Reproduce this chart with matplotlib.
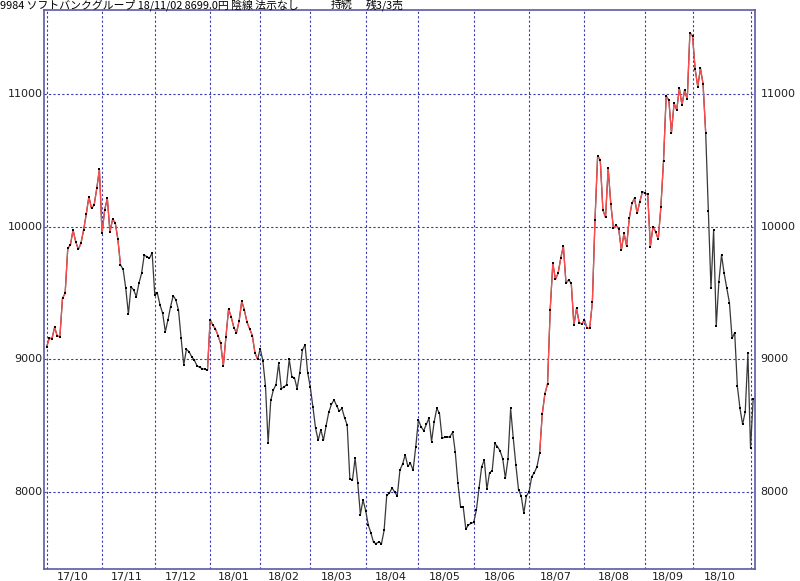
import matplotlib
matplotlib.use('Agg')
import matplotlib.pyplot as plt
import numpy as np

# daily closes, one list per month (17/10 .. 18/11)
close_1710 = [9096, 9159, 9157, 9242, 9176, 9171, 9461, 9498, 9838, 9863, 9976,
              9888, 9830, 9875, 9976, 10094, 10227, 10139, 10164, 10290, 10433]
close_1711 = [9951, 10127, 10215, 9963, 10056, 10031, 9906, 9712, 9679, 9536,
              9342, 9548, 9523, 9473, 9574, 9649, 9787, 9775, 9762, 9805]
close_1712 = [9486, 9498, 9410, 9347, 9209, 9297, 9398, 9481, 9448, 9372, 9159,
              8958, 9076, 9058, 9020, 8995, 8953, 8940, 8930, 8925, 8920]
close_1801 = [9300, 9260, 9230, 9180, 9120, 8950, 9170, 9380, 9320, 9240,
              9200, 9290, 9440, 9370, 9280, 9230, 9180, 9050, 9000]
close_1802 = [9080, 8990, 8800, 8370, 8690, 8770, 8810, 8970, 8780, 8790,
              8810, 9000, 8870, 8860, 8780, 8900, 9070, 9110, 8900]
close_1803 = [8790, 8640, 8480, 8390, 8470, 8390, 8500, 8600, 8660, 8695, 8650,
              8610, 8630, 8560, 8505, 8100, 8090, 8255, 8070, 7830, 7940]
close_1804 = [7860, 7750, 7690, 7620, 7610, 7625, 7610, 7710, 7975, 7990,
              8030, 8000, 7970, 8165, 8210, 8280, 8195, 8215, 8165, 8340]
close_1805 = [8543, 8493, 8462, 8510, 8556, 8380, 8530, 8631, 8593, 8405, 8412,
              8412, 8418, 8450, 8300, 8065, 7889, 7889, 7720, 7751, 7764]
close_1806 = [7770, 7864, 8030, 8190, 8241, 8020, 8145, 8160, 8367, 8342, 8310,
              8250, 8103, 8250, 8630, 8405, 8200, 8015, 7970, 7840, 7970]
close_1807 = [8003, 8116, 8146, 8191, 8292, 8590, 8740, 8815, 9372, 9724, 9604,
              9649, 9762, 9855, 9574, 9599, 9574, 9259, 9385, 9277, 9267]
close_1808 = [9297, 9234, 9234, 9431, 10051, 10534, 10504, 10127, 10071, 10441,
              10172, 9988, 10013, 9983, 9825, 9951, 9855, 10064, 10177, 10215,
              10101, 10189, 10265]
close_1809 = [10252, 10245, 9850, 10001, 9963, 9906, 10151, 10498, 10986,
              10956, 10710, 10931, 10881, 11044, 10918, 11031, 10961, 11464]
close_1810 = [11439, 11188, 11056, 11195, 11077, 10705, 10121, 9536, 9976, 9252,
              9586, 9787, 9649, 9536, 9428, 9159, 9201, 8799, 8631, 8510,
              8606, 9046]
close_1811 = [8330, 8699]

months = [close_1710, close_1711, close_1712, close_1801, close_1802, close_1803,
          close_1804, close_1805, close_1806, close_1807, close_1808, close_1809,
          close_1810, close_1811]
month_labels = ['17/10', '17/11', '17/12', '18/01', '18/02', '18/03', '18/04',
                '18/05', '18/06', '18/07', '18/08', '18/09', '18/10']

# index ranges where the trend line is drawn red
up_spans = [(0, 28), (61, 80), (187, 250)]

price_ticks = [8000, 9000, 10000, 11000]

head_left = '9984 ソフトバンクグループ 18/11/02 8699.0円 陰線 法示なし'
head_mid = '持続'
head_right = '残3/3売'

close = np.array(sum(months, []), dtype=float)
x = np.arange(len(close))
starts = np.cumsum([0] + [len(m) for m in months])[:-1]
label_pos = [(starts[k] + starts[k + 1]) / 2 - 0.5 for k in range(len(month_labels))]

grid_col = '#3a3ab4'
frame_col = '#5a5aa8'
num_font = ['Liberation Sans Narrow', 'DejaVu Sans']

fig = plt.figure(figsize=(8, 5.81), dpi=100)
ax = fig.add_axes([44 / 800, 1 - 569 / 581, 711 / 800, 559 / 581])
ax.set_xlim(-1.02, 268.7)
ax.set_ylim(7419, 11635)

for s in starts:
    ax.axvline(s, color=grid_col, lw=0.8, ls=(0, (2, 2)), zorder=1)
for p in price_ticks:
    ax.axhline(p, color=grid_col, lw=0.8, ls=(0, (2, 2)), zorder=1)

ax.plot(x, close, color='#383838', lw=0.9, zorder=2)
for a, b in up_spans:
    ax.plot(x[a:b + 1], close[a:b + 1], color='#ff4c4c', lw=0.9, zorder=3)
ax.plot(x, close, 's', color='black', ms=1.5, mew=0, zorder=4)

# price labels on both sides of the frame
ax.set_yticks(price_ticks)
ax.set_yticklabels([])
ax.tick_params(axis='y', length=0)
ytrans = ax.get_yaxis_transform()
for p in price_ticks:
    ax.text(-0.002, p, str(p), transform=ytrans, ha='right', va='center',
            family=num_font, fontsize=8, color='#202020', clip_on=False)
    ax.text(1.008, p, str(p), transform=ytrans, ha='left', va='center',
            family=num_font, fontsize=8, color='#202020', clip_on=False)

ax.set_xticks(label_pos)
ax.set_xticklabels(month_labels, family=num_font)
ax.tick_params(axis='x', length=0, pad=2, labelsize=8, labelcolor='#202020')

for sp in ax.spines.values():
    sp.set_color(frame_col)
    sp.set_linewidth(1.2)

fam = ['Noto Sans CJK JP', 'DejaVu Sans']
fig.text(0 / 800, 1 - 5 / 581, head_left, family=fam, fontsize=7.8, va='center', ha='left')
fig.text(331 / 800, 1 - 5 / 581, head_mid, family=fam, fontsize=7.8, va='center', ha='left')
fig.text(366 / 800, 1 - 5 / 581, head_right, family=fam, fontsize=7.8, va='center', ha='left')

fig.savefig('out.png', dpi=100, facecolor='white')
